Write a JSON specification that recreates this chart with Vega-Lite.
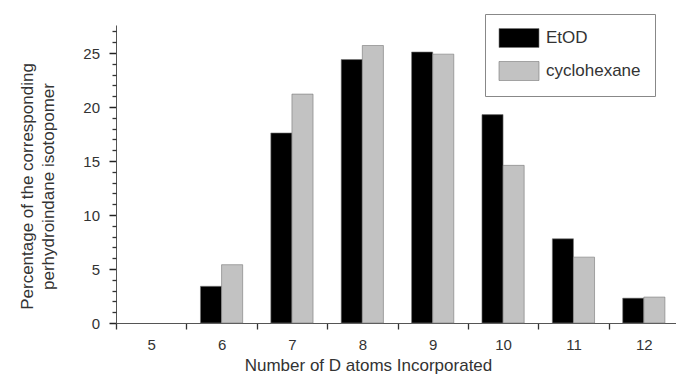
{
  "$schema": "https://vega.github.io/schema/vega-lite/v6.json",
  "autosize": "none",
  "width": 563,
  "height": 298,
  "padding": {"left": 116, "top": 25, "right": -3, "bottom": 53},
  "background": "white",
  "config": {
    "view": {"stroke": null},
    "font": "Liberation Sans"
  },
  "data": {
    "values": [
      {"atoms": "5", "solvent": "EtOD", "pct": 0},
      {"atoms": "5", "solvent": "cyclohexane", "pct": 0},
      {"atoms": "6", "solvent": "EtOD", "pct": 3.4},
      {"atoms": "6", "solvent": "cyclohexane", "pct": 5.4},
      {"atoms": "7", "solvent": "EtOD", "pct": 17.6},
      {"atoms": "7", "solvent": "cyclohexane", "pct": 21.2},
      {"atoms": "8", "solvent": "EtOD", "pct": 24.4},
      {"atoms": "8", "solvent": "cyclohexane", "pct": 25.7},
      {"atoms": "9", "solvent": "EtOD", "pct": 25.1},
      {"atoms": "9", "solvent": "cyclohexane", "pct": 24.9},
      {"atoms": "10", "solvent": "EtOD", "pct": 19.3},
      {"atoms": "10", "solvent": "cyclohexane", "pct": 14.6},
      {"atoms": "11", "solvent": "EtOD", "pct": 7.8},
      {"atoms": "11", "solvent": "cyclohexane", "pct": 6.1},
      {"atoms": "12", "solvent": "EtOD", "pct": 2.3},
      {"atoms": "12", "solvent": "cyclohexane", "pct": 2.4}
    ]
  },
  "encoding": {
    "x": {
      "field": "atoms",
      "type": "ordinal",
      "sort": ["5", "6", "7", "8", "9", "10", "11", "12"],
      "scale": {"paddingInner": 0, "paddingOuter": 0},
      "axis": {
        "title": "Number of D atoms Incorporated",
        "labelAngle": 0,
        "ticks": true,
        "tickBand": "extent",
        "tickSize": 6,
        "tickColor": "#333333",
        "tickWidth": 1.3,
        "domainColor": "#555555",
        "labelFontSize": 15,
        "labelColor": "#333333",
        "labelPadding": 8,
        "labelBaseline": "top",
        "titleFontSize": 17,
        "titleFontWeight": "normal",
        "titleColor": "#333333",
        "titleX": 252,
        "titleY": 47,
        "titleBaseline": "alphabetic"
      }
    },
    "xOffset": {
      "field": "solvent",
      "type": "nominal",
      "sort": ["EtOD", "cyclohexane"],
      "scale": {"paddingInner": 0, "paddingOuter": 0.667}
    }
  },
  "layer": [
    {
      "mark": {"type": "bar", "stroke": "#777777"},
      "encoding": {
        "y": {
          "field": "pct",
          "type": "quantitative",
          "scale": {"domain": [0, 27.6], "nice": false, "zero": true},
          "axis": {
            "title": ["Percentage of the corresponding", "perhydroindane isotopomer"],
            "values": [0, 5, 10, 15, 20, 25],
            "ticks": true,
            "tickSize": 7,
            "tickColor": "#222222",
            "tickOpacity": 1,
            "tickWidth": 1.5,
            "domainColor": "#555555",
            "grid": false,
            "labelFontSize": 15,
            "labelColor": "#333333",
            "labelPadding": 9.5,
            "titleFontSize": 17,
            "titleFontWeight": "normal",
            "titleColor": "#333333",
            "titleLineHeight": 21,
            "titleX": -89,
            "titleY": 161,
            "titleBaseline": "middle",
            "titleAngle": -90
          }
        },
        "strokeWidth": {"condition": {"test": "datum.pct === 0", "value": 0}, "value": 0.6},
        "color": {
          "field": "solvent",
          "type": "nominal",
          "sort": ["EtOD", "cyclohexane"],
          "scale": {"domain": ["EtOD", "cyclohexane"], "range": ["#000000", "#c2c2c2"]},
          "legend": {
            "title": null,
            "orient": "none",
            "legendX": 369,
            "legendY": -11,
            "direction": "vertical",
            "symbolType": "M-2,-0.95H2V0.95H-2Z",
            "symbolSize": 400,
            "symbolOffset": 10,
            "symbolStrokeColor": "#777777",
            "symbolStrokeWidth": 0.6,
            "symbolOpacity": 1,
            "labelFontSize": 17,
            "labelColor": "#333333",
            "labelOffset": 16.5,
            "labelExpr": "datum.label + '\u00a0\u00a0\u00a0\u00a0\u00a0\u00a0\u00a0\u00a0'",
            "rowPadding": 10,
            "padding": 13.5,
            "strokeColor": "#888888",
            "fillColor": "white"
          }
        }
      }
    },
    {
      "mark": {"type": "bar", "opacity": 0, "strokeWidth": 0},
      "encoding": {
        "y": {
          "field": "pct",
          "type": "quantitative",
          "axis": {
            "orient": "left",
            "title": null,
            "values": [1, 2, 3, 4, 6, 7, 8, 9, 11, 12, 13, 14, 16, 17, 18, 19, 21, 22, 23, 24, 26, 27],
            "labels": false,
            "domain": false,
            "grid": false,
            "ticks": true,
            "tickSize": 4,
            "tickColor": "#333333",
            "tickOpacity": 1,
            "tickWidth": 1.3
          }
        }
      }
    }
  ],
  "resolve": {"axis": {"y": "independent"}}
}
